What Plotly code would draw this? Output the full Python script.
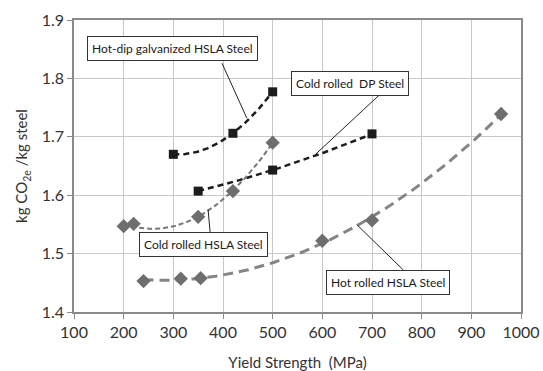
import numpy as np
import plotly.graph_objects as go

# Data
hdg_x = [300, 420, 500]
hdg_y = [1.670, 1.706, 1.777]
dp_x = [350, 500, 700]
dp_y = [1.607, 1.643, 1.705]
crh_x = [200, 220, 350, 420, 500]
crh_y = [1.547, 1.551, 1.563, 1.607, 1.690]
hrh_x = [240, 315, 355, 600, 700, 960]
hrh_y = [1.453, 1.457, 1.458, 1.522, 1.557, 1.739]

x_ticks = [100, 200, 300, 400, 500, 600, 700, 800, 900, 1000]
y_ticks = [1.4, 1.5, 1.6, 1.7, 1.8, 1.9]

labels = ["Hot-dip galvanized HSLA Steel", "Cold rolled  DP Steel",
          "Cold rolled HSLA Steel", "Hot rolled HSLA Steel"]

FONT = "Lato"
BLACK = "#1c1c1c"
GRAY = "#777777"

def trend(xs, ys, n=100):
    c = np.polyfit(xs, ys, 2)
    xx = np.linspace(min(xs), max(xs), n)
    return xx, np.polyval(c, xx)

fig = go.Figure()

series = [
    (hdg_x, hdg_y, BLACK, "square", 9, 2.5, "6px,4px"),
    (dp_x, dp_y, BLACK, "square", 9, 2.5, "6px,4px"),
    (crh_x, crh_y, GRAY, "diamond", 11, 2, "5px,3px"),
    (hrh_x, hrh_y, "#858585", "diamond", 11, 3, "10px,6px"),
]
for xs, ys, col, sym, ms, lw, dash in series:
    tx, ty = trend(xs, ys)
    fig.add_trace(go.Scatter(x=tx, y=ty, mode="lines",
                             line=dict(color=col, width=lw, dash=dash),
                             showlegend=False, hoverinfo="skip"))
for xs, ys, col, sym, ms, lw, dash in series:
    fig.add_trace(go.Scatter(x=xs, y=ys, mode="markers",
                             marker=dict(color=col if sym == "square" else "#6e6e6e",
                                         symbol=sym, size=ms),
                             showlegend=False))

# label boxes: (text center x, y), leader line (x0,y0)->(x1,y1)
boxes = [
    (299, 1.852, 398, 1.826, 448, 1.732),
    (655, 1.791, 719, 1.775, 585, 1.669),
    (360, 1.515, 374, 1.537, 370, 1.575),
    (733, 1.4505, 763, 1.472, 669, 1.550),
]
for lab, (bx, by, x0, y0, x1, y1) in zip(labels, boxes):
    fig.add_shape(type="line", x0=x0, y0=y0, x1=x1, y1=y1, xref="x", yref="y",
                  line=dict(color="#222222", width=1))
    fig.add_annotation(x=bx, y=by, xref="x", yref="y", text=lab, showarrow=False,
                       font=dict(family=FONT, size=12, color="#1a1a1a"),
                       bgcolor="white", bordercolor="#333333", borderwidth=1,
                       borderpad=4)

fig.update_layout(
    width=543, height=371,
    margin=dict(l=74, r=22, t=20, b=59),
    paper_bgcolor="white", plot_bgcolor="white",
    font=dict(family=FONT, color="#333333"),
)
fig.update_xaxes(range=[100, 1000], tickvals=x_ticks, ticktext=[str(v) for v in x_ticks],
                 showgrid=True, gridcolor="#c8c8c8", gridwidth=1,
                 showline=True, linecolor="#8a8a8a", linewidth=1.5, mirror=True,
                 ticks="outside", ticklen=5, tickcolor="#8a8a8a",
                 tickfont=dict(size=16, color="#333333"), zeroline=False,
                 automargin=False,
                 title=dict(text="Yield Strength  (MPa)", font=dict(size=15, color="#333333"),
                            standoff=20))
fig.update_yaxes(range=[1.4, 1.9], tickvals=y_ticks, ticktext=[f"{v:.1f}" for v in y_ticks],
                 showgrid=True, gridcolor="#c8c8c8", gridwidth=1,
                 showline=True, linecolor="#8a8a8a", linewidth=1.5, mirror=True,
                 ticks="outside", ticklen=5, tickcolor="#8a8a8a",
                 tickfont=dict(size=16, color="#333333"), zeroline=False,
                 automargin=False,
                 title=dict(text="kg CO<sub>2e</sub> /kg steel", font=dict(size=15, color="#333333"),
                            standoff=10))

fig.write_html("out.html")
